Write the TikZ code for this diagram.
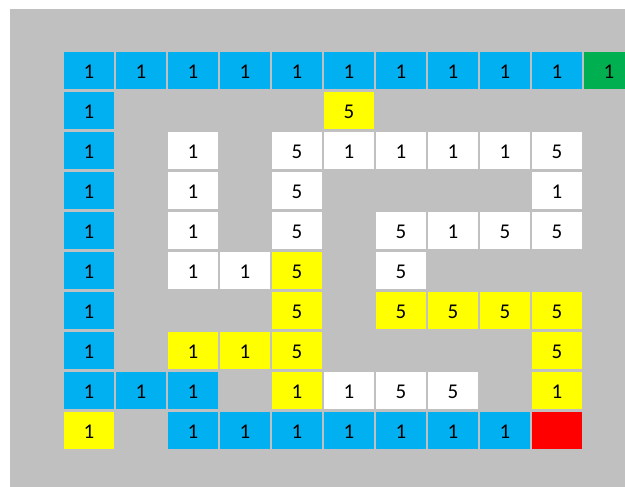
\documentclass[tikz,border=0pt]{standalone}
\usepackage{fontspec}
\setmainfont{Carlito}
\definecolor{cblue}{HTML}{00B0F0}
\definecolor{cgreen}{HTML}{00B050}
\definecolor{cyellow}{HTML}{FFFF00}
\definecolor{cred}{HTML}{FF0000}
\definecolor{cgray}{HTML}{C0C0C0}
\definecolor{cwhite}{HTML}{FFFFFF}
\tikzset{
  cell/.style={fill=#1, draw=none, minimum width=50pt, minimum height=37pt,
    inner sep=0pt, text height=16pt, text depth=0pt,
    font=\fontsize{21}{21}\selectfont, text=black}
}
\begin{document}
\begin{tikzpicture}[x=1pt,y=-1pt]
\useasboundingbox (0,0) rectangle (625,487);
\clip (0,0) rectangle (625,487);
\fill[cgray] (10,9) rectangle (625,487);
\foreach \r/\c/\f/\t in {
 1/0/cblue/1,1/1/cblue/1,1/2/cblue/1,1/3/cblue/1,1/4/cblue/1,1/5/cblue/1,1/6/cblue/1,1/7/cblue/1,1/8/cblue/1,1/9/cblue/1,1/10/cgreen/1,
 2/0/cblue/1,2/5/cyellow/5,
 3/0/cblue/1,3/2/cwhite/1,3/4/cwhite/5,3/5/cwhite/1,3/6/cwhite/1,3/7/cwhite/1,3/8/cwhite/1,3/9/cwhite/5,
 4/0/cblue/1,4/2/cwhite/1,4/4/cwhite/5,4/9/cwhite/1,
 5/0/cblue/1,5/2/cwhite/1,5/4/cwhite/5,5/6/cwhite/5,5/7/cwhite/1,5/8/cwhite/5,5/9/cwhite/5,
 6/0/cblue/1,6/2/cwhite/1,6/3/cwhite/1,6/4/cyellow/5,6/6/cwhite/5,
 7/0/cblue/1,7/4/cyellow/5,7/6/cyellow/5,7/7/cyellow/5,7/8/cyellow/5,7/9/cyellow/5,
 8/0/cblue/1,8/2/cyellow/1,8/3/cyellow/1,8/4/cyellow/5,8/9/cyellow/5,
 9/0/cblue/1,9/1/cblue/1,9/2/cblue/1,9/4/cyellow/1,9/5/cwhite/1,9/6/cwhite/5,9/7/cwhite/5,9/9/cyellow/1,
 10/0/cyellow/1,10/2/cblue/1,10/3/cblue/1,10/4/cblue/1,10/5/cblue/1,10/6/cblue/1,10/7/cblue/1,10/8/cblue/1,10/9/cred/{}
}{
  \node[cell=\f] (n-\r-\c) at ({89+52*\c},{70.5+40*(\r-1)}) {\t};
}
\end{tikzpicture}
\end{document}
